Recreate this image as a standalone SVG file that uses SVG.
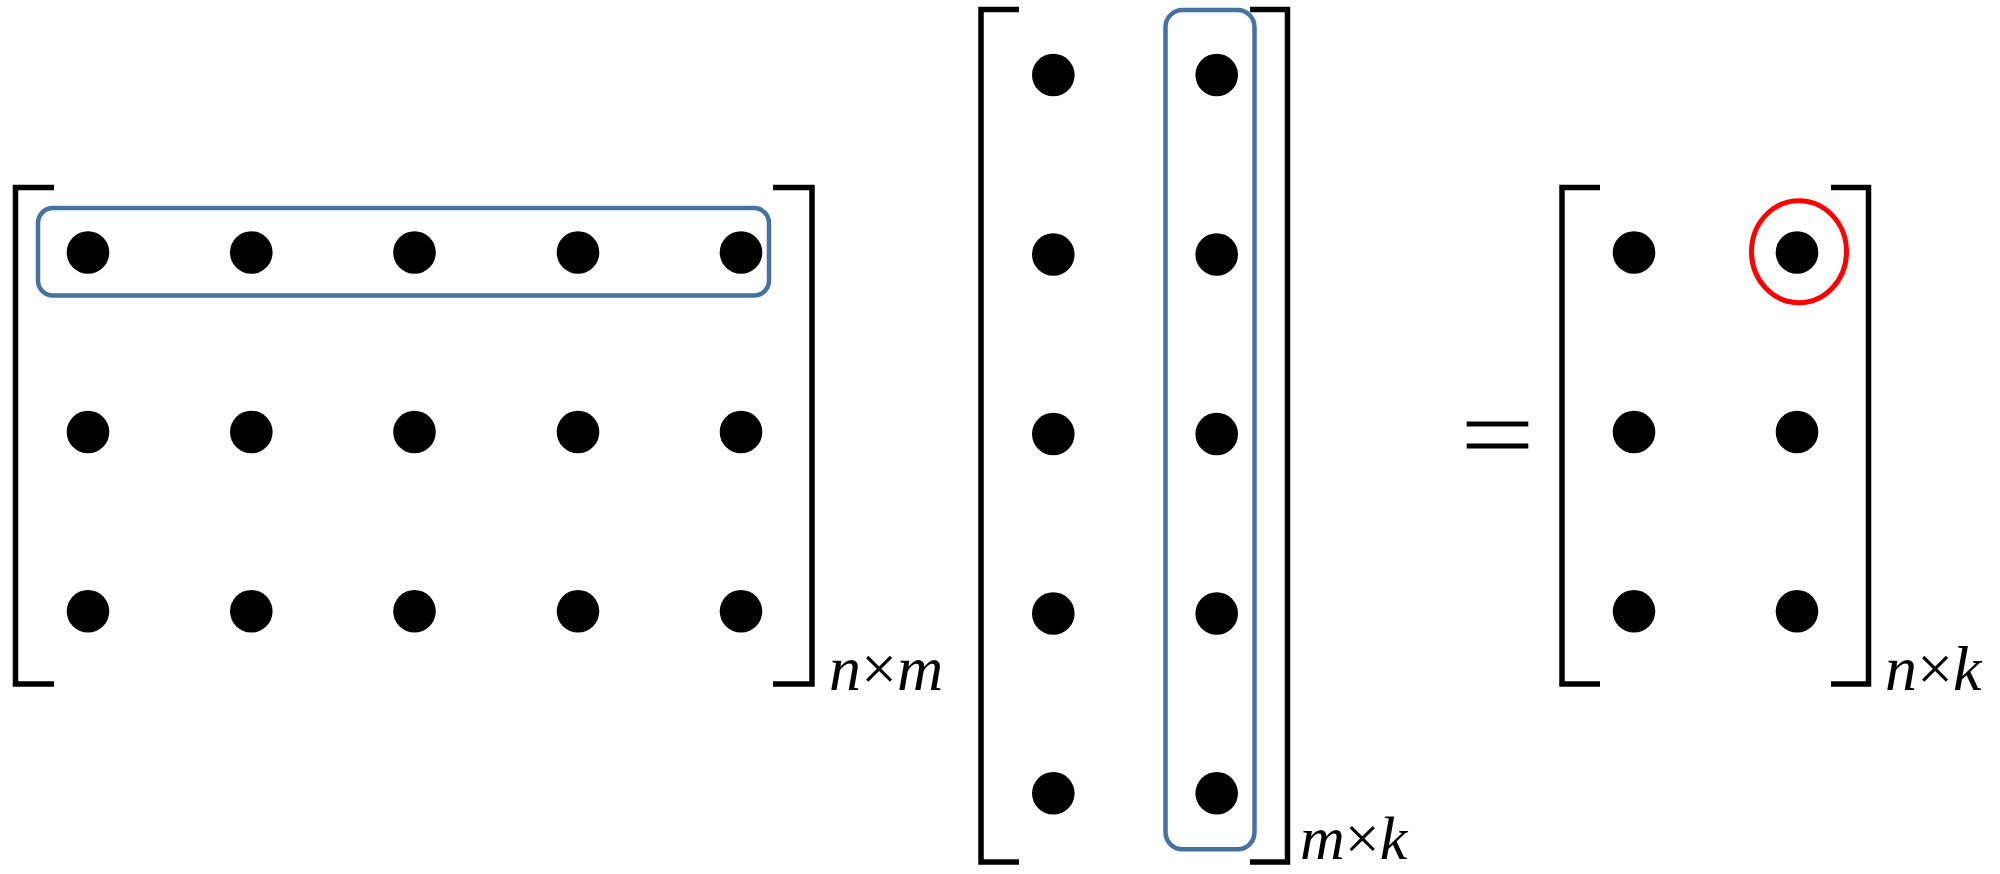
<svg xmlns="http://www.w3.org/2000/svg" width="2000" height="874" viewBox="0 0 2000 874">
<defs>
<style>
.br{fill:none;stroke:#000;stroke-width:5.5;stroke-linejoin:miter;stroke-linecap:butt}
.sel{fill:none;stroke:#4672A0;stroke-width:4.5}
.dot{fill:#000}
.lbl{font-family:"Liberation Serif","Times New Roman",serif;font-size:64px;fill:#000}
.it{font-style:italic}
</style>
<circle id="d" r="21.3" class="dot"/>
</defs>
<rect width="2000" height="874" fill="#fff"/>

<g id="matrixA">
<path class="br" d="M54 187.5H15.5V684H54"/>
<path class="br" d="M773 187.5H812V684H773"/>
<rect id="rowHighlight" class="sel" x="38" y="208" width="731" height="87.5" rx="15"/>
<g id="A-dots">
<use href="#d" x="88" y="252.5"/><use href="#d" x="251.3" y="252.5"/><use href="#d" x="414.5" y="252.5"/><use href="#d" x="578" y="252.5"/><use href="#d" x="741" y="252.5"/>
<use href="#d" x="88" y="432"/><use href="#d" x="251.3" y="432"/><use href="#d" x="414.5" y="432"/><use href="#d" x="578" y="432"/><use href="#d" x="741" y="432"/>
<use href="#d" x="88" y="611.3"/><use href="#d" x="251.3" y="611.3"/><use href="#d" x="414.5" y="611.3"/><use href="#d" x="578" y="611.3"/><use href="#d" x="741" y="611.3"/>
</g>
<text class="lbl" x="829" y="690"><tspan class="it">n</tspan>×<tspan class="it">m</tspan></text>
</g>

<g id="matrixB">
<path class="br" d="M1019 9.5H981V862H1019"/>
<path class="br" d="M1250 9.5H1287.5V862H1250"/>
<rect id="colHighlight" class="sel" x="1165.5" y="10" width="89" height="839.3" rx="17"/>
<g id="B-dots">
<use href="#d" x="1053.3" y="75"/><use href="#d" x="1216.7" y="75"/>
<use href="#d" x="1053.3" y="254.5"/><use href="#d" x="1216.7" y="254.5"/>
<use href="#d" x="1053.3" y="434"/><use href="#d" x="1216.7" y="434"/>
<use href="#d" x="1053.3" y="613.5"/><use href="#d" x="1216.7" y="613.5"/>
<use href="#d" x="1053.3" y="793.3"/><use href="#d" x="1216.7" y="793.3"/>
</g>
<text class="lbl" x="1300" y="859" style="font-size:62px"><tspan class="it">m</tspan>×<tspan class="it">k</tspan></text>
</g>

<g id="equals">
<rect x="1466.7" y="421.5" width="61.6" height="5" fill="#000"/>
<rect x="1466.7" y="443.5" width="61.6" height="5" fill="#000"/>
</g>

<g id="matrixC">
<path class="br" d="M1600 187.5H1562V684H1600"/>
<path class="br" d="M1831 187.5H1868.5V684H1831"/>
<g id="C-dots">
<use href="#d" x="1634" y="252.5"/><use href="#d" x="1797" y="252.5"/>
<use href="#d" x="1634" y="432"/><use href="#d" x="1797" y="432"/>
<use href="#d" x="1634" y="611.3"/><use href="#d" x="1797" y="611.3"/>
</g>
<ellipse id="resultHighlight" cx="1799" cy="251.7" rx="47.5" ry="51" fill="none" stroke="#FF0000" stroke-width="5"/>
<text class="lbl" x="1885" y="690"><tspan class="it">n</tspan>×<tspan class="it">k</tspan></text>
</g>
</svg>
